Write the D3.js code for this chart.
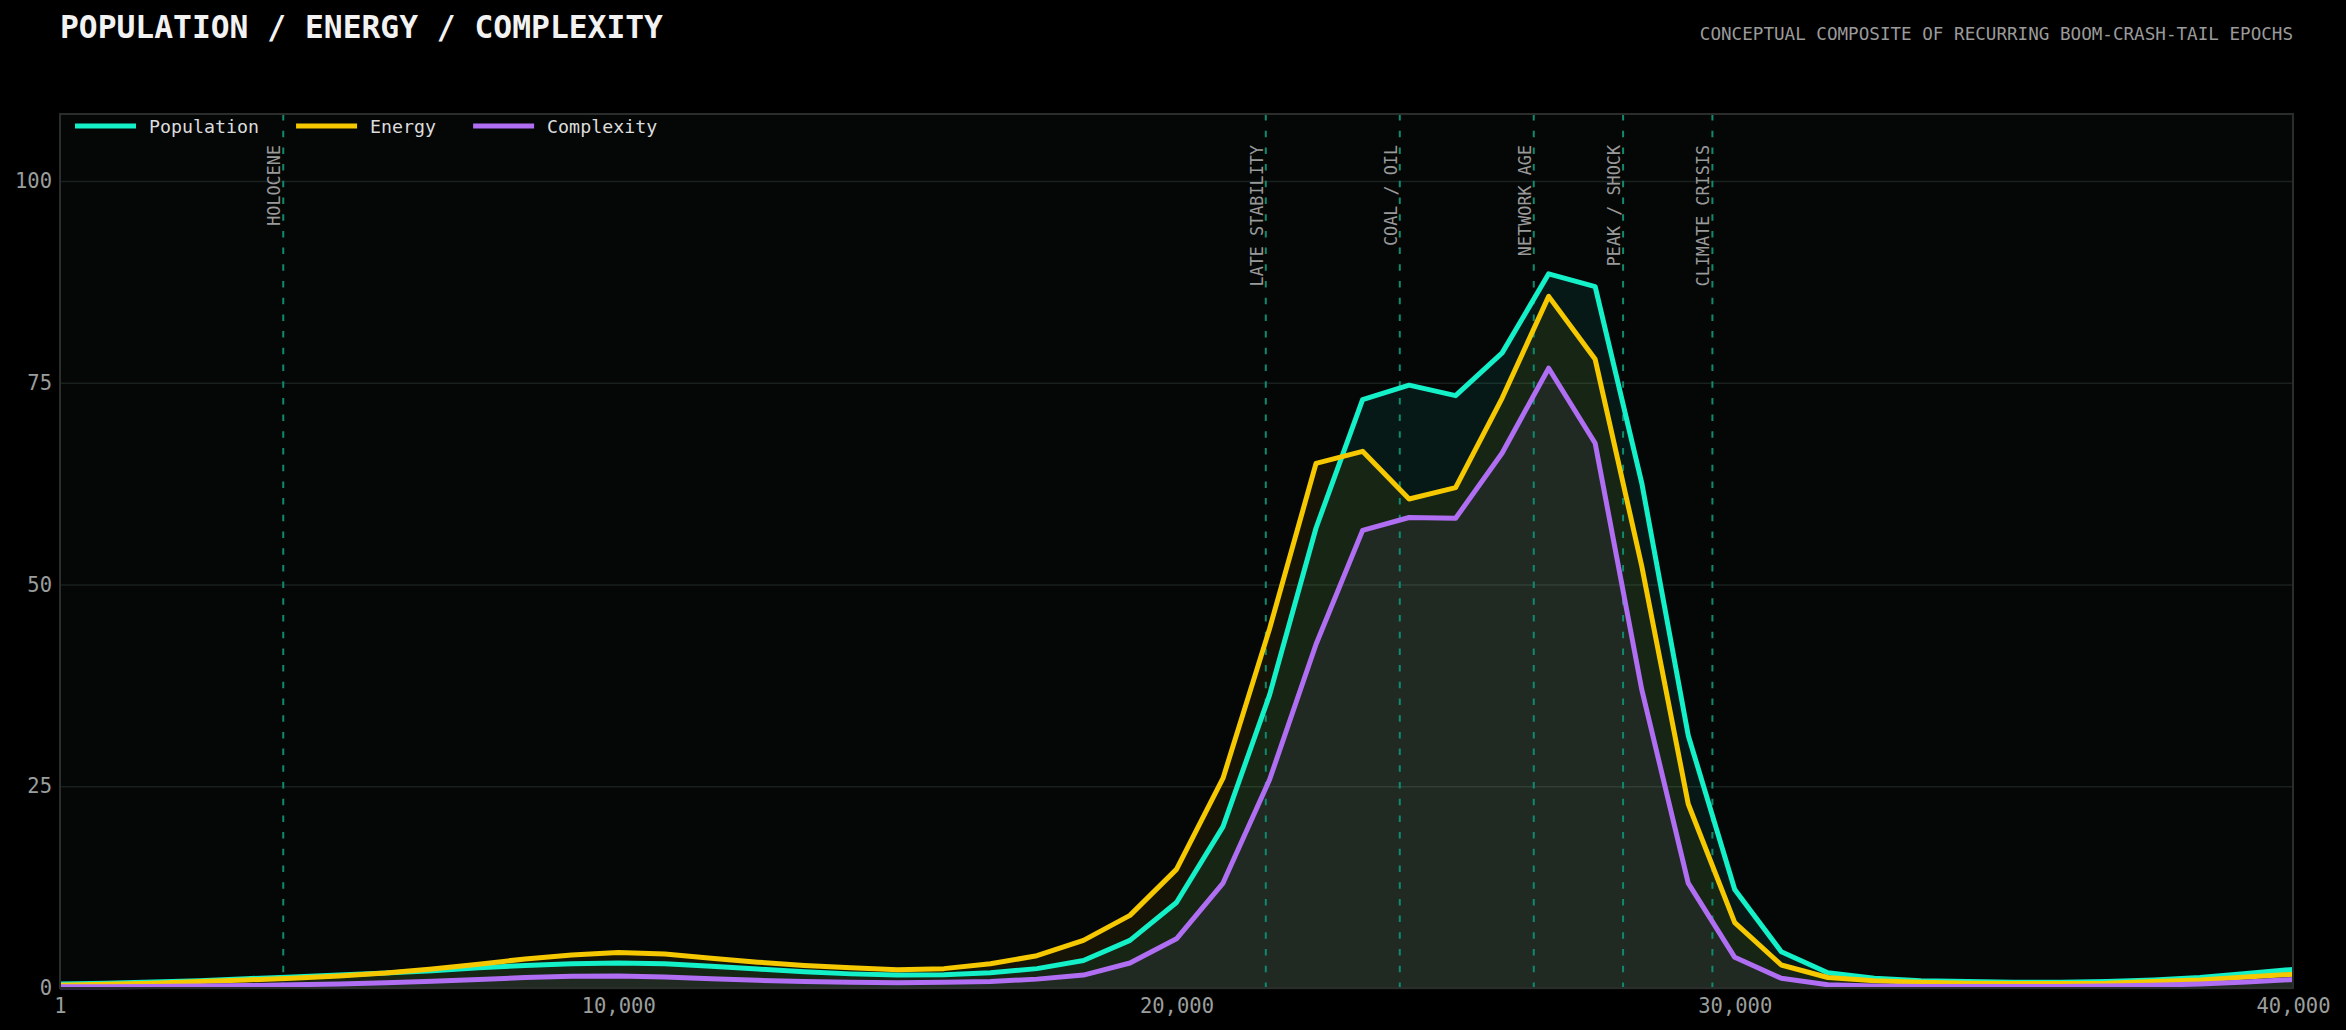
<!DOCTYPE html>
<html>
<head>
<meta charset="utf-8">
<script src="https://cdn.jsdelivr.net/npm/d3@7"></script>
<style>
  html, body { margin: 0; padding: 0; background: #000; }
  svg { display: block; }
  text { font-family: "DejaVu Sans Mono", monospace; }
</style>
</head>
<body>
<svg id="chart" width="2346" height="1030"></svg>
<script>
// ---------- data ----------
const years = [1, 834, 1667, 2500, 3334, 4167, 5000, 5834, 6667, 7500, 8334, 9167,
  10000, 10834, 11667, 12500, 13334, 14167, 15000, 15834, 16667, 17500, 18334, 19167,
  20000, 20834, 21667, 22500, 23334, 24167, 25000, 25834, 26667, 27500, 28334, 29167,
  30000, 30834, 31667, 32500, 33334, 34167, 35000, 35834, 36667, 37500, 38334, 39167, 40000];

const population = [0.5, 0.6, 0.75, 0.9, 1.15, 1.35, 1.6, 1.85, 2.15, 2.5, 2.8, 3.0,
  3.1, 3.0, 2.7, 2.35, 2.0, 1.75, 1.6, 1.65, 1.9, 2.4, 3.4, 5.9,
  10.6, 20.0, 36.3, 57.0, 72.9, 74.7, 73.4, 78.7, 88.5, 86.9, 62.6, 31.3,
  12.2, 4.5, 1.9, 1.2, 0.9, 0.8, 0.7, 0.7, 0.8, 1.0, 1.3, 1.8, 2.3];

const energy = [0.35, 0.45, 0.6, 0.8, 1.0, 1.2, 1.5, 1.85, 2.35, 2.95, 3.6, 4.1,
  4.4, 4.2, 3.7, 3.2, 2.8, 2.5, 2.25, 2.4, 3.0, 4.0, 5.9, 9.0,
  14.7, 26.0, 44.5, 65.0, 66.5, 60.6, 62.0, 73.1, 85.7, 77.9, 52.3, 22.8,
  8.1, 2.85, 1.3, 0.9, 0.7, 0.6, 0.55, 0.55, 0.6, 0.8, 1.0, 1.35, 1.7];

const complexity = [0.15, 0.17, 0.2, 0.25, 0.3, 0.4, 0.5, 0.65, 0.85, 1.05, 1.3, 1.45,
  1.5, 1.35, 1.15, 0.95, 0.8, 0.7, 0.65, 0.7, 0.8, 1.1, 1.6, 3.1,
  6.1, 13.0, 25.8, 42.6, 56.7, 58.3, 58.2, 66.3, 76.8, 67.5, 37.0, 13.0,
  3.8, 1.2, 0.4, 0.25, 0.2, 0.2, 0.2, 0.2, 0.25, 0.35, 0.5, 0.75, 1.05];

const seriesNames = ["Population", "Energy", "Complexity"];
const seriesColors = ["#14f0c8", "#f5c800", "#b06ef2"];
const fillOpacity = [0.08, 0.07, 0.07];

const eventYears = [4000, 21600, 24000, 26400, 28000, 29600];
const eventLabels = ["HOLOCENE", "LATE STABILITY", "COAL / OIL", "NETWORK AGE", "PEAK / SHOCK", "CLIMATE CRISIS"];

const xTicks = [1, 10000, 20000, 30000, 40000];
const yTicks = [0, 25, 50, 75, 100];

const titleText = "POPULATION / ENERGY / COMPLEXITY";
const subtitleText = "CONCEPTUAL COMPOSITE OF RECURRING BOOM-CRASH-TAIL EPOCHS";

// ---------- layout ----------
const svg = d3.select("#chart");
const W = 2346, H = 1030;
const m = { left: 60, right: 2293, top: 114, bottom: 988 };

svg.append("rect").attr("width", W).attr("height", H).attr("fill", "#000");

const x = d3.scaleLinear().domain([1, 40000]).range([m.left, m.right]);
const y = d3.scaleLinear().domain([0, 108.3]).range([m.bottom, m.top]);

// plot background
svg.append("rect")
  .attr("x", m.left).attr("y", m.top)
  .attr("width", m.right - m.left).attr("height", m.bottom - m.top)
  .attr("fill", "#050707");

// gridlines
const yAxisGrid = d3.axisLeft(y).tickValues(yTicks).tickSize(-(m.right - m.left)).tickFormat("");
const gGrid = svg.append("g").attr("transform", `translate(${m.left},0)`).call(yAxisGrid);
gGrid.select(".domain").remove();
gGrid.selectAll("line").attr("stroke", "#18211e").attr("stroke-width", 1.5);

const series = [population, energy, complexity];

// area fills
const area = d3.area()
  .x((d, i) => x(years[i]))
  .y0(y(0))
  .y1(d => y(d));

series.forEach((vals, si) => {
  svg.append("path")
    .datum(vals)
    .attr("d", area)
    .attr("fill", seriesColors[si])
    .attr("fill-opacity", fillOpacity[si]);
});

// event lines
const gEv = svg.append("g");
eventYears.forEach((ey, i) => {
  const ex = x(ey);
  gEv.append("line")
    .attr("x1", ex).attr("x2", ex)
    .attr("y1", m.top).attr("y2", m.bottom)
    .attr("stroke", "#0f8a6e")
    .attr("stroke-width", 2)
    .attr("stroke-dasharray", "6.5,10.2");
  gEv.append("text")
    .attr("transform", `translate(${ex - 3},145) rotate(-90)`)
    .attr("text-anchor", "end")
    .attr("font-size", "16.8px")
    .attr("fill", "#9a9a9a")
    .text(eventLabels[i]);
});

// lines
const line = d3.line()
  .x((d, i) => x(years[i]))
  .y(d => y(d));

series.forEach((vals, si) => {
  svg.append("path")
    .datum(vals)
    .attr("d", line)
    .attr("fill", "none")
    .attr("stroke", seriesColors[si])
    .attr("stroke-width", 5)
    .attr("stroke-linejoin", "round");
});

// frame
svg.append("rect")
  .attr("x", m.left).attr("y", m.top)
  .attr("width", m.right - m.left).attr("height", m.bottom - m.top)
  .attr("fill", "none")
  .attr("stroke", "#2b2d2c")
  .attr("stroke-width", 2);

// axes
const yAxis = d3.axisLeft(y).tickValues(yTicks).tickSize(0).tickPadding(8).tickFormat(d3.format("d"));
const gy = svg.append("g").attr("transform", `translate(${m.left},0)`).call(yAxis);
gy.select(".domain").remove();
gy.selectAll("text")
  .attr("font-family", "DejaVu Sans Mono, monospace")
  .attr("font-size", "20.5px")
  .attr("fill", "#9a9e9c");

const xAxis = d3.axisBottom(x).tickValues(xTicks).tickSize(0).tickPadding(10).tickFormat(d3.format(","));
const gx = svg.append("g").attr("transform", `translate(0,${m.bottom})`).call(xAxis);
gx.select(".domain").remove();
gx.selectAll("text")
  .attr("font-family", "DejaVu Sans Mono, monospace")
  .attr("font-size", "20.5px")
  .attr("fill", "#9a9e9c");

// legend
const legend = svg.append("g");
let lx = 75;
const ly = 126;
seriesNames.forEach((name, i) => {
  legend.append("line")
    .attr("x1", lx).attr("x2", lx + 61)
    .attr("y1", ly).attr("y2", ly)
    .attr("stroke", seriesColors[i])
    .attr("stroke-width", 4.8);
  const t = legend.append("text")
    .attr("x", lx + 74).attr("y", ly)
    .attr("dominant-baseline", "central")
    .attr("font-size", "18.3px")
    .attr("fill", "#dcdcdc")
    .text(name);
  const tw = t.node().getComputedTextLength();
  lx = lx + 74 + tw + 37;
});

// titles
svg.append("text")
  .attr("x", 60).attr("y", 38)
  .attr("font-size", "31.3px")
  .attr("font-weight", "bold")
  .attr("fill", "#f2f2f2")
  .text(titleText);

svg.append("text")
  .attr("x", 2293).attr("y", 40)
  .attr("text-anchor", "end")
  .attr("font-size", "17.6px")
  .attr("fill", "#9a9a9a")
  .text(subtitleText);
</script>
</body>
</html>
